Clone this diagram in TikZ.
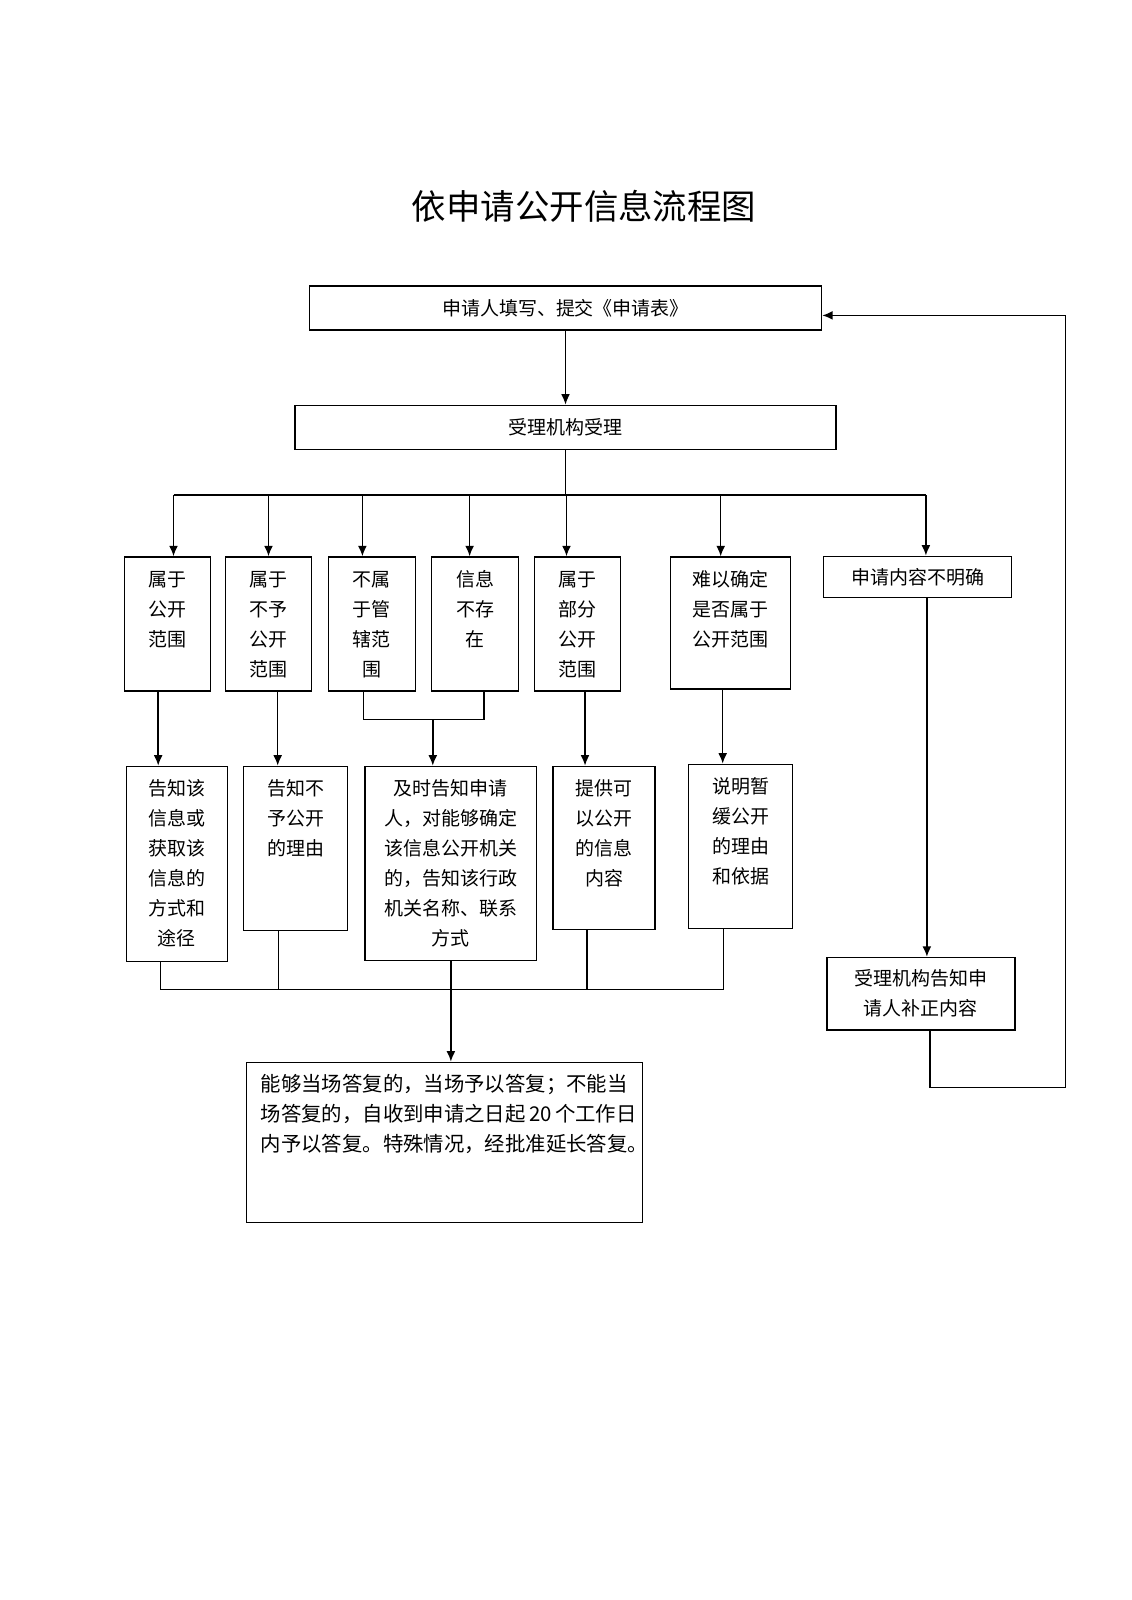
\documentclass[tikz,border=0pt]{standalone}
\usepackage{fontspec}
\newfontfamily\cjk{Noto Sans CJK SC}
\usetikzlibrary{arrows.meta}

\begin{document}
\begin{tikzpicture}[x=0.25mm, y=-0.25mm,
        >={Latex[length=2.6mm, width=2.2mm]},   %Pfeilspitzen
        line width=1pt,
        font=\cjk\fontsize{13.5}{21.3}\selectfont,
        kasten/.style 2 args={draw, anchor=north west, inner xsep=0pt, inner ysep=3.1mm,
            text width=#1, text height=4.2mm, text depth=#2, align=center},
        zeile/.style={draw, minimum height=#1, inner sep=0pt, align=center}]
        %Seite
        \useasboundingbox (0,0) rectangle (1131,1600);
        %Titel
        \node (titel) at (584,206) {\fontsize{24.5}{30}\selectfont 依申请公开信息流程图};
        %Kopf
        \node[zeile=11mm, minimum width=128mm] (antrag) at (565.5,307.8) {申请人填写、提交《申请表》};
        \node[zeile=11mm, minimum width=135.25mm] (annahme) at (565.5,427.3) {受理机构受理};
        %Fallunterscheidung
        \node[kasten={21.5mm}{23.1mm}] (b1) at (123.5,556.3) {属于\\公开\\范围};
        \node[kasten={21.5mm}{23.1mm}] (b2) at (224.6,556.3) {属于\\不予\\公开\\范围};
        \node[kasten={21.75mm}{23.1mm}] (b3) at (327.7,556.3) {不属\\于管\\辖范\\围};
        \node[kasten={21.75mm}{23.1mm}] (b4) at (430.8,556.3) {信息\\不存\\在};
        \node[kasten={21.5mm}{23.1mm}] (b5) at (533.9,556.3) {属于\\部分\\公开\\范围};
        \node[kasten={30.1mm}{22.6mm}] (b6) at (669.6,556.3) {难以确定\\是否属于\\公开范围};
        \node[zeile=10.25mm, minimum width=47mm] (b7) at (917.7,576.8) {申请内容不明确};
        %Bescheide
        \node[kasten={25.25mm}{38.35mm}] (c1) at (125.6,765.6) {告知该\\信息或\\获取该\\信息的\\方式和\\途径};
        \node[kasten={26mm}{30.7mm}] (c2) at (243,765.6) {告知不\\予公开\\的理由};
        \node[kasten={42.9mm}{38.1mm}] (c3) at (364.4,765.6) {及时告知申请\\人，对能够确定\\该信息公开机关\\的，告知该行政\\机关名称、联系\\方式};
        \node[kasten={25.5mm}{30.45mm}] (c4) at (552.3,765.6) {提供可\\以公开\\的信息\\内容};
        \node[kasten={26mm}{30.7mm}] (c5) at (688,763.6) {说明暂\\缓公开\\的理由\\和依据};
        \node[zeile=18.1mm, minimum width=47mm] (c6) at (920.8,993.7) {受理机构告知申\\请人补正内容};
        %Frist
        \node[kasten={94mm}{29.7mm}, inner xsep=2.5mm, align=left,
            font=\cjk\fontsize{14.5}{21.3}\selectfont] (antwort) at (246,1061.6)
            {\hspace*{1mm}能够当场答复的，当场予以答复；不能当\\\hspace*{1mm}场答复的，自收到申请之日起\,20\,个工作日\\\hspace*{1mm}内予以答复。特殊情况，经批准延长答复。};
        %Hilfspunkte
        \coordinate (ast) at (annahme.south |- 0,495);
        \coordinate (knoten) at (432.8,719.7);
        \coordinate (sammel) at (c3.south |- 0,989.2);
        \coordinate (rueck) at (1065.7,1087.2);
        %Pfeile oben
        \draw[->] (antrag.south) -- (annahme.north);
        \draw (annahme.south) -- (ast);
        \draw (ast -| 173.5,0) -- (ast -| 925.9,0);
        \foreach \k/\xx in {b1/173.5, b2/268.5, b3/362.4, b4/469.6, b5/566.5, b6/720.7, b7/925.9}
            \draw[->] (ast -| \xx,0) -- (\k.north -| \xx,0);
        %Pfeile Mitte
        \foreach \o/\u/\xx in {b1/c1/158.2, b2/c2/277.7, b5/c4/585, b6/c5/722.7, b7/c6/926.9}
            \draw[->] (\o.south -| \xx,0) -- (\u.north -| \xx,0);
        \draw (b3.south -| 363.4,0) |- (knoten) -| (b4.south -| 483.9,0);
        \draw[->] (knoten) -- (c3.north -| knoten);
        %Pfeile unten
        \draw (c1.south -| 160.3,0) |- (sammel -| 723.7,0) -- (c5.south -| 723.7,0);
        \foreach \k/\xx in {c2/278.7, c4/587}
            \draw (\k.south -| \xx,0) -- (sammel -| \xx,0);
        \draw[->] (c3.south) -- (antwort.north -| c3.south);
        %Rueckweg
        \draw[->] (c6.south -| 930,0) |- (rueck) |- (antrag.east |- 0,315.4);
    \end{tikzpicture}
\end{document}
